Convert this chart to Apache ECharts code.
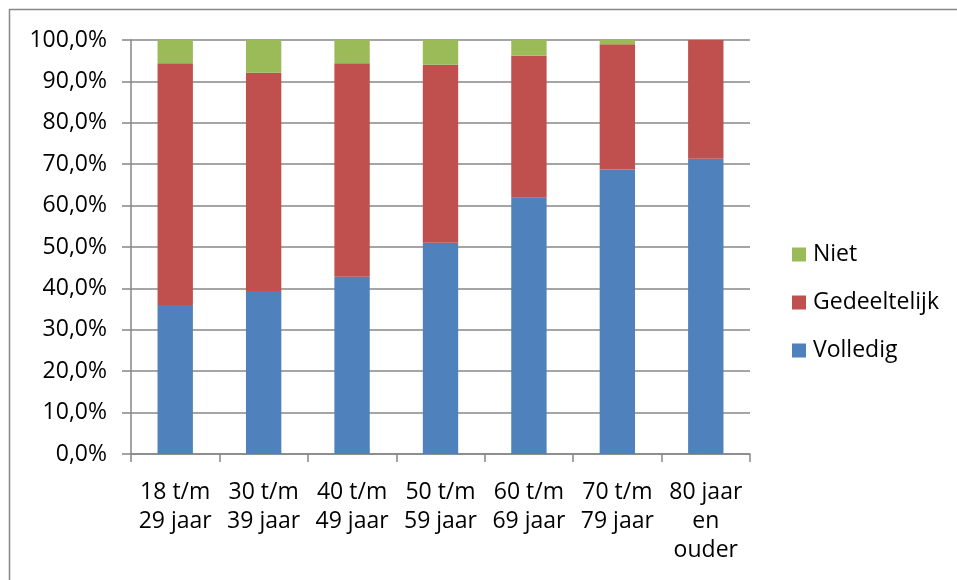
<!DOCTYPE html>
<html><head><meta charset="utf-8">
<script src="https://cdn.jsdelivr.net/npm/echarts@6/dist/echarts.min.js"></script>
<style>html,body{margin:0;padding:0;background:#fff}#c{width:957px;height:580px}</style>
</head><body><div id="c"></div>
<script>
const categories = ['18 t/m\n29 jaar','30 t/m\n39 jaar','40 t/m\n49 jaar','50 t/m\n59 jaar','60 t/m\n69 jaar','70 t/m\n79 jaar','80 jaar\nen\nouder'];
const volledig = [36.0, 39.4, 42.8, 51.0, 61.9, 68.7, 71.3];
const gedeeltelijk = [58.4, 52.7, 51.6, 43.0, 34.3, 30.3, 28.7];
const niet = [5.6, 7.9, 5.6, 6.0, 3.8, 1.0, 0.0];
const yTicks = [0,10,20,30,40,50,60,70,80,90,100];

const font = 'Open Sans, Noto Sans, sans-serif';
const fs = 23;
const chart = echarts.init(document.getElementById('c'));
chart.setOption({
  animation:false,
  backgroundColor:'#fff',
  graphic:[{type:'rect',shape:{x:9.5,y:9.5,width:1000,height:1000},style:{fill:'none',stroke:'#878787',lineWidth:1.5}}],
  grid:{left:131,right:207,top:40,bottom:126,containLabel:false},
  legend:{
    orient:'vertical', left:787, top:238, itemWidth:14, itemHeight:14, itemGap:25,
    icon:'rect',
    data:['Niet','Gedeeltelijk','Volledig'],
    textStyle:{fontFamily:font,fontSize:fs,color:'#000',padding:[0,0,0,2]}
  },
  xAxis:{
    type:'category', data:categories,
    axisLine:{lineStyle:{color:'#878787',width:1.5}},
    axisTick:{show:true,length:8,lineStyle:{color:'#878787',width:1.5}},
    axisLabel:{fontFamily:font,fontSize:fs,color:'#000',lineHeight:29,margin:24,interval:0}
  },
  yAxis:{
    type:'value', min:yTicks[0], max:yTicks[yTicks.length-1], interval:10,
    axisLine:{show:true,lineStyle:{color:'#878787',width:1.5}},
    axisTick:{show:true,length:9,lineStyle:{color:'#878787',width:1.5}},
    splitLine:{lineStyle:{color:'#878787',width:1.5}},
    axisLabel:{fontFamily:font,fontSize:fs,color:'#000',margin:24,
      formatter:v=>v.toFixed(1).replace('.',',')+'%'}
  },
  series:[
    {name:'Volledig',type:'bar',stack:'a',data:volledig,barWidth:'40%',itemStyle:{color:'#4F81BD'}},
    {name:'Gedeeltelijk',type:'bar',stack:'a',data:gedeeltelijk,barWidth:'40%',itemStyle:{color:'#C0504D'}},
    {name:'Niet',type:'bar',stack:'a',data:niet,barWidth:'40%',itemStyle:{color:'#9BBB59'}}
  ]
});
</script></body></html>
